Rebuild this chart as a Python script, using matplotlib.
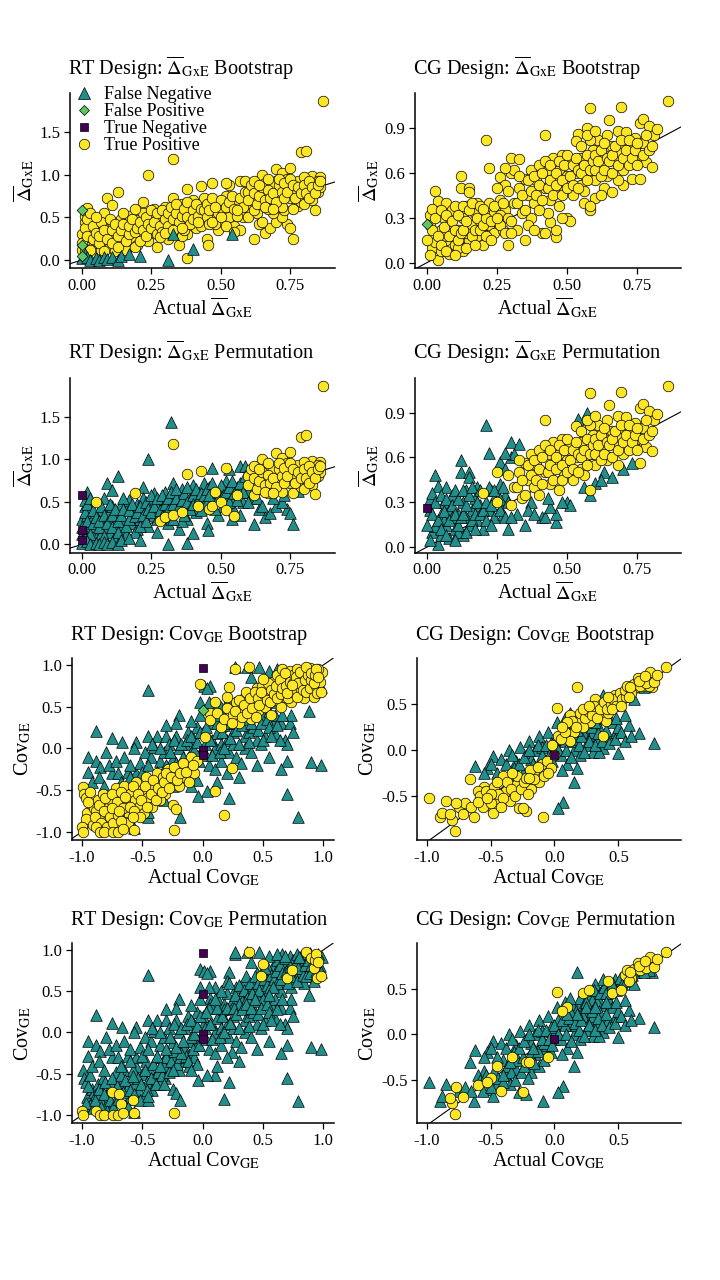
import numpy as np
import matplotlib
matplotlib.use("Agg")
import matplotlib.pyplot as plt
from matplotlib.lines import Line2D
from matplotlib.ticker import FormatStrFormatter

plt.rcParams['font.family'] = ['Liberation Serif', 'DejaVu Serif']
plt.rcParams['mathtext.fontset'] = 'stix'
plt.rcParams['axes.unicode_minus'] = False

# ---------------- data ----------------
# each list: points (actual, estimate); name = <set>_<bootstrap class>_<permutation class>

# RT design, Delta GxE
RTD_TP_FN = [(0.00, 0.30), (0.00, 0.12), (0.01, 0.22), (0.01, 0.45), (0.01, 0.52), (0.02, 0.61),
             (0.02, 0.35), (0.02, 0.18), (0.01, 0.10), (0.03, 0.27), (0.03, 0.42), (0.04, 0.15),
             (0.04, 0.33), (0.05, 0.22), (0.05, 0.08), (0.06, 0.38), (0.07, 0.28), (0.07, 0.12),
             (0.08, 0.55), (0.08, 0.20), (0.09, 0.72), (0.09, 0.40), (0.10, 0.30), (0.10, 0.15),
             (0.11, 0.64), (0.11, 0.45), (0.12, 0.25), (0.12, 0.10), (0.13, 0.80), (0.13, 0.38),
             (0.14, 0.48), (0.14, 0.18), (0.15, 0.30), (0.16, 0.42), (0.16, 0.12), (0.17, 0.52),
             (0.18, 0.25), (0.18, 0.36), (0.20, 0.47), (0.20, 0.18), (0.21, 0.30), (0.22, 0.68),
             (0.22, 0.55), (0.23, 0.40), (0.24, 1.00), (0.24, 0.22), (0.25, 0.48), (0.26, 0.35),
             (0.26, 0.60), (0.27, 0.15), (0.28, 0.52), (0.29, 0.42), (0.30, 0.62), (0.31, 0.25),
             (0.32, 0.50), (0.33, 0.72), (0.34, 0.40), (0.35, 0.58), (0.35, 0.18), (0.36, 0.65),
             (0.37, 0.45), (0.38, 0.30), (0.39, 0.55), (0.40, 0.70), (0.38, 0.02), (0.41, 0.38),
             (0.42, 0.60), (0.44, 0.48), (0.45, 0.25), (0.455, 0.17), (0.46, 0.68), (0.47, 0.90),
             (0.48, 0.52), (0.49, 0.35), (0.50, 0.62), (0.51, 0.45), (0.52, 0.75), (0.53, 0.88),
             (0.54, 0.55), (0.55, 0.40), (0.56, 0.68), (0.57, 0.92), (0.58, 0.50), (0.59, 0.92),
             (0.60, 0.62), (0.57, 0.35), (0.62, 0.24), (0.66, 0.32), (0.68, 0.37), (0.70, 0.45),
             (0.74, 0.42), (0.75, 0.37), (0.76, 0.24), (0.78, 0.63), (0.72, 0.50), (0.64, 0.42),
             (0.61, 0.55), (0.44, 0.72), (0.36, 0.28), (0.27, 0.45), (0.15, 0.55),
             (0.00, 0.20), (0.01, 0.38), (0.02, 0.28), (0.02, 0.48), (0.03, 0.12), (0.03, 0.55),
             (0.04, 0.25), (0.04, 0.40), (0.05, 0.32), (0.06, 0.20), (0.06, 0.28), (0.07, 0.45),
             (0.08, 0.35), (0.08, 0.10), (0.09, 0.25), (0.10, 0.48), (0.11, 0.20), (0.11, 0.35),
             (0.12, 0.42), (0.13, 0.28), (0.13, 0.15), (0.14, 0.35), (0.15, 0.42), (0.16, 0.22),
             (0.17, 0.30), (0.17, 0.40), (0.18, 0.48), (0.19, 0.33), (0.19, 0.15), (0.20, 0.38),
             (0.21, 0.45), (0.21, 0.22), (0.22, 0.35), (0.23, 0.50), (0.23, 0.28), (0.24, 0.42),
             (0.25, 0.38), (0.25, 0.58), (0.26, 0.45), (0.27, 0.55), (0.27, 0.30), (0.28, 0.40),
             (0.29, 0.58), (0.29, 0.33), (0.30, 0.48), (0.31, 0.55), (0.31, 0.40), (0.32, 0.62),
             (0.32, 0.30), (0.33, 0.48), (0.34, 0.55), (0.34, 0.65), (0.35, 0.45), (0.36, 0.52),
             (0.37, 0.60), (0.37, 0.35), (0.38, 0.50), (0.38, 0.68), (0.39, 0.42), (0.40, 0.58),
             (0.40, 0.48), (0.41, 0.65), (0.42, 0.52), (0.43, 0.40), (0.43, 0.60), (0.44, 0.58),
             (0.45, 0.65), (0.45, 0.50), (0.46, 0.58), (0.47, 0.72), (0.48, 0.42), (0.49, 0.62),
             (0.49, 0.55), (0.50, 0.70), (0.51, 0.58), (0.52, 0.62), (0.53, 0.50), (0.53, 0.68),
             (0.54, 0.75), (0.55, 0.60), (0.56, 0.52), (0.57, 0.72), (0.58, 0.62), (0.59, 0.80),
             (0.60, 0.50), (0.63, 0.55), (0.65, 0.45), (0.69, 0.55), (0.73, 0.58)]
RTD_TP_TP = [(0.33, 1.18), (0.87, 1.86), (0.79, 1.26), (0.81, 1.28), (0.38, 0.83), (0.19, 0.60),
             (0.05, 0.50), (0.28, 0.27), (0.30, 0.32), (0.33, 0.35), (0.36, 0.38), (0.42, 0.45),
             (0.46, 0.42), (0.47, 0.45), (0.50, 0.50), (0.52, 0.40), (0.55, 0.33), (0.43, 0.86),
             (0.52, 0.90), (0.48, 0.62), (0.56, 0.58), (0.60, 0.80), (0.61, 0.70), (0.62, 0.58),
             (0.63, 0.85), (0.64, 0.65), (0.65, 1.00), (0.65, 0.75), (0.66, 0.90), (0.67, 0.60),
             (0.68, 0.82), (0.69, 0.70), (0.70, 1.07), (0.70, 0.92), (0.71, 0.78), (0.72, 0.62),
             (0.72, 1.02), (0.73, 0.85), (0.74, 0.95), (0.75, 1.08), (0.75, 0.72), (0.76, 0.60),
             (0.77, 0.88), (0.78, 0.80), (0.78, 0.93), (0.79, 0.68), (0.80, 0.75), (0.81, 0.90),
             (0.82, 0.82), (0.83, 0.98), (0.83, 0.70), (0.84, 0.59), (0.84, 0.88), (0.85, 0.80),
             (0.86, 0.97), (0.86, 0.85), (0.80, 0.97), (0.76, 0.79), (0.69, 0.88), (0.85, 0.93),
             (0.60, 0.70), (0.61, 0.88), (0.62, 0.78), (0.63, 0.65), (0.64, 0.75), (0.65, 0.85),
             (0.66, 0.70), (0.67, 0.82), (0.67, 0.95), (0.68, 0.72), (0.69, 0.78), (0.70, 0.68),
             (0.71, 0.88), (0.71, 0.95), (0.72, 0.80), (0.73, 0.72), (0.73, 0.90), (0.74, 0.80),
             (0.75, 0.95), (0.76, 0.88), (0.77, 0.72), (0.78, 0.85), (0.79, 0.78), (0.80, 0.88),
             (0.80, 0.65), (0.81, 0.78), (0.82, 0.92), (0.82, 0.72), (0.83, 0.85), (0.84, 0.78),
             (0.85, 0.88), (0.86, 0.92), (0.62, 0.92), (0.64, 0.88), (0.66, 0.62), (0.69, 0.60)]
RTD_FN_FN = [(0.00, 0.02), (0.01, 0.07), (0.02, 0.04), (0.03, 0.00), (0.05, 0.02), (0.06, 0.00),
             (0.08, 0.03), (0.09, 0.01), (0.11, 0.03), (0.13, 0.00), (0.14, 0.05), (0.17, 0.07),
             (0.21, 0.05), (0.31, 0.00), (0.33, 0.30), (0.40, 0.13), (0.54, 0.30)]
RTD_FP_TN = [(0.00, 0.58), (0.00, 0.17), (0.00, 0.05)]
RTD_NA_FN = [(0.32, 1.44)]

# CG design, Delta GxE
CGD_TP_FN = [(0.01, 0.32), (0.02, 0.10), (0.03, 0.48), (0.03, 0.14), (0.04, 0.41), (0.04, 0.02),
             (0.05, 0.22), (0.05, 0.08), (0.06, 0.30), (0.07, 0.40), (0.07, 0.15), (0.08, 0.25),
             (0.08, 0.06), (0.09, 0.35), (0.10, 0.12), (0.01, 0.25), (0.02, 0.36), (0.06, 0.18),
             (0.10, 0.38), (0.11, 0.22), (0.12, 0.58), (0.12, 0.50), (0.13, 0.08), (0.13, 0.30),
             (0.14, 0.38), (0.15, 0.50), (0.15, 0.47), (0.15, 0.15), (0.16, 0.25), (0.17, 0.33),
             (0.18, 0.18), (0.19, 0.28), (0.20, 0.12), (0.14, 0.20), (0.21, 0.82), (0.22, 0.63),
             (0.22, 0.25), (0.23, 0.38), (0.24, 0.20), (0.26, 0.57), (0.26, 0.42), (0.27, 0.22),
             (0.28, 0.35), (0.29, 0.12), (0.30, 0.60), (0.30, 0.70), (0.32, 0.22), (0.33, 0.69),
             (0.35, 0.15), (0.37, 0.30), (0.41, 0.20), (0.46, 0.17), (0.46, 0.22), (0.50, 0.30),
             (0.51, 0.28), (0.54, 0.86), (0.56, 0.40), (0.57, 0.90), (0.58, 0.35), (0.63, 0.50),
             (0.66, 0.47), (0.73, 0.56), (0.60, 0.43), (0.70, 0.52), (0.48, 0.30), (0.62, 0.45),
             (0.09, 0.20), (0.18, 0.40), (0.11, 0.10), (0.24, 0.33),
             (0.00, 0.15), (0.01, 0.05), (0.02, 0.22), (0.03, 0.30), (0.04, 0.18), (0.05, 0.35),
             (0.05, 0.12), (0.06, 0.24), (0.07, 0.08), (0.07, 0.32), (0.08, 0.18), (0.09, 0.28),
             (0.10, 0.22), (0.10, 0.05), (0.11, 0.32), (0.11, 0.15), (0.12, 0.20), (0.13, 0.38),
             (0.13, 0.22), (0.14, 0.28), (0.14, 0.10), (0.15, 0.35), (0.16, 0.18), (0.16, 0.40),
             (0.17, 0.22), (0.17, 0.12), (0.18, 0.30), (0.19, 0.22), (0.19, 0.38), (0.20, 0.25),
             (0.21, 0.30), (0.21, 0.18), (0.22, 0.40), (0.23, 0.28), (0.23, 0.15), (0.24, 0.38),
             (0.26, 0.25), (0.26, 0.32), (0.27, 0.40), (0.28, 0.20), (0.28, 0.52), (0.29, 0.30),
             (0.30, 0.20), (0.31, 0.62), (0.28, 0.63), (0.36, 0.25), (0.38, 0.22), (0.42, 0.20),
             (0.44, 0.27), (0.43, 0.33)]
CGD_TP_TP = [(0.20, 0.36), (0.25, 0.50), (0.25, 0.30), (0.29, 0.48), (0.30, 0.28), (0.31, 0.40),
             (0.33, 0.50), (0.34, 0.33), (0.35, 0.56), (0.36, 0.45), (0.37, 0.62), (0.38, 0.40),
             (0.39, 0.55), (0.40, 0.35), (0.40, 0.65), (0.42, 0.85), (0.42, 0.50), (0.43, 0.62),
             (0.44, 0.42), (0.45, 0.70), (0.45, 0.55), (0.47, 0.38), (0.47, 0.62), (0.48, 0.72),
             (0.49, 0.48), (0.50, 0.58), (0.51, 0.68), (0.52, 0.45), (0.53, 0.81), (0.53, 0.60),
             (0.55, 0.52), (0.55, 0.70), (0.57, 0.63), (0.58, 1.03), (0.58, 0.38), (0.59, 0.75),
             (0.60, 0.55), (0.61, 0.82), (0.62, 0.65), (0.63, 0.72), (0.64, 0.85), (0.65, 0.95),
             (0.65, 0.60), (0.66, 0.78), (0.67, 0.68), (0.68, 0.88), (0.68, 0.55), (0.69, 1.04),
             (0.69, 0.73), (0.70, 0.62), (0.70, 0.80), (0.71, 0.87), (0.72, 0.70), (0.73, 0.78),
             (0.74, 0.83), (0.75, 0.72), (0.76, 0.93), (0.76, 0.56), (0.77, 0.96), (0.77, 0.80),
             (0.78, 0.67), (0.79, 0.91), (0.80, 0.64), (0.81, 0.85), (0.82, 0.89), (0.86, 1.08),
             (0.74, 0.66), (0.56, 0.48), (0.64, 0.58), (0.72, 0.76),
             (0.32, 0.40), (0.33, 0.58), (0.34, 0.45), (0.35, 0.35), (0.36, 0.55), (0.37, 0.48),
             (0.38, 0.58), (0.39, 0.45), (0.40, 0.52), (0.41, 0.60), (0.41, 0.42), (0.42, 0.68),
             (0.43, 0.50), (0.44, 0.55), (0.44, 0.65), (0.45, 0.45), (0.46, 0.60), (0.46, 0.52),
             (0.47, 0.68), (0.48, 0.55), (0.48, 0.45), (0.49, 0.65), (0.50, 0.50), (0.50, 0.72),
             (0.51, 0.58), (0.52, 0.65), (0.52, 0.52), (0.53, 0.70), (0.54, 0.62), (0.54, 0.50),
             (0.55, 0.60), (0.55, 0.78), (0.56, 0.65), (0.57, 0.55), (0.57, 0.72), (0.58, 0.62),
             (0.58, 0.82), (0.59, 0.68), (0.60, 0.72), (0.60, 0.62), (0.61, 0.68), (0.62, 0.75),
             (0.62, 0.58), (0.63, 0.62), (0.63, 0.80), (0.64, 0.70), (0.65, 0.68), (0.66, 0.72),
             (0.66, 0.60), (0.67, 0.78), (0.68, 0.65), (0.69, 0.82), (0.70, 0.70), (0.71, 0.75),
             (0.72, 0.65), (0.72, 0.82), (0.73, 0.70), (0.74, 0.75), (0.75, 0.80), (0.75, 0.65),
             (0.77, 0.72), (0.78, 0.85), (0.79, 0.75), (0.80, 0.78), (0.57, 0.85), (0.60, 0.88)]
CGD_FP_TN = [(0.00, 0.26)]

# RT design, Cov GE
RTC_TP_FN = [(-0.99, -0.46), (-0.98, -0.55), (-0.97, -0.60), (-0.96, -0.78), (-0.93, -0.88),
             (-0.92, -0.68), (-0.90, -0.72), (-0.87, -0.62), (-0.85, -0.80), (-0.83, -0.55),
             (-0.80, -0.88), (-0.78, -0.70), (-0.76, -0.62), (-0.73, -0.83), (-0.72, -0.48),
             (-0.67, -0.60), (-0.65, -0.45), (-0.63, -0.68), (-0.61, -0.80), (-0.60, -0.55),
             (-0.56, -0.62), (-0.55, -0.40), (-0.53, -0.70), (-0.50, -0.50), (-0.49, -0.78),
             (-0.47, -0.35), (-0.46, -0.60), (-0.44, -0.45), (-0.42, -0.70), (-0.40, -0.55),
             (-0.38, -0.30), (-0.36, -0.45), (-0.33, -0.35), (-0.31, -0.55), (-0.29, -0.25),
             (-0.27, -0.40), (-0.25, -0.68), (-0.23, -0.30), (-0.22, -0.73), (-0.20, -0.45),
             (-0.18, -0.20), (-0.15, -0.35), (-0.12, -0.25), (-0.10, -0.10), (-0.07, -0.30),
             (-0.05, -0.15), (0.10, -0.51), (0.18, -0.80), (0.24, -0.24), (0.02, 0.14),
             (-0.02, 0.77), (0.22, 0.73), (0.06, 0.42), (0.06, 0.34), (0.10, 0.55), (0.12, 0.42),
             (0.15, 0.25), (0.18, 0.35), (0.20, 0.48), (0.25, 0.40), (0.28, 0.55), (0.30, 0.30),
             (0.32, 0.45), (0.35, 0.62), (0.38, 0.50), (0.40, 0.35), (0.42, 0.58), (0.45, 0.72),
             (0.46, 0.45), (0.52, 0.50), (0.55, 0.68), (0.57, 0.40), (0.58, 0.80), (0.60, 0.58),
             (0.62, 0.88), (0.63, 0.70), (0.65, 0.50), (0.66, 0.95), (0.67, 0.78), (0.68, 0.62),
             (0.70, 0.85), (0.72, 0.93), (0.73, 0.55), (0.75, 0.88), (0.76, 0.65), (0.78, 0.95),
             (0.80, 0.72), (0.82, 0.85), (0.84, 0.60), (0.88, 0.78), (0.91, 0.68), (0.99, 0.92),
             (0.27, 0.95), (-0.88, -0.75), (-0.64, -0.88), (-0.35, -0.62), (0.50, 0.60),
             (-0.97, -0.85), (-0.95, -0.65), (-0.93, -0.52), (-0.91, -0.92), (-0.89, -0.82),
             (-0.86, -0.68), (-0.84, -0.90), (-0.82, -0.75), (-0.81, -0.60), (-0.79, -0.95),
             (-0.77, -0.82), (-0.75, -0.55), (-0.74, -0.90), (-0.71, -0.65), (-0.70, -0.80),
             (-0.68, -0.52), (-0.66, -0.72), (-0.64, -0.58), (-0.62, -0.90), (-0.60, -0.70),
             (-0.58, -0.45), (-0.57, -0.75), (-0.54, -0.55), (-0.52, -0.82), (-0.51, -0.62),
             (-0.48, -0.45), (-0.46, -0.70), (-0.43, -0.55), (-0.41, -0.38), (-0.39, -0.62),
             (-0.37, -0.48), (-0.34, -0.52), (-0.32, -0.40), (-0.30, -0.30), (-0.28, -0.48),
             (-0.26, -0.35), (-0.24, -0.22), (-0.21, -0.38), (-0.19, -0.30), (-0.16, -0.18),
             (-0.14, -0.28), (-0.11, -0.40), (-0.08, -0.20),
             (0.20, 0.62), (0.24, 0.30), (0.27, 0.45), (0.30, 0.58), (0.33, 0.38), (0.34, 0.52),
             (0.36, 0.68), (0.37, 0.42), (0.39, 0.60), (0.41, 0.48), (0.43, 0.68), (0.44, 0.38),
             (0.46, 0.60), (0.47, 0.52), (0.49, 0.75), (0.51, 0.65), (0.53, 0.58), (0.54, 0.78),
             (0.56, 0.55), (0.57, 0.70), (0.59, 0.65), (0.61, 0.75), (0.62, 0.60), (0.64, 0.82),
             (0.65, 0.65), (0.66, 0.72), (0.68, 0.90), (0.69, 0.75), (0.71, 0.60), (0.72, 0.80),
             (0.73, 0.68), (0.75, 0.78), (0.77, 0.85), (0.78, 0.62), (0.79, 0.78), (0.81, 0.92),
             (0.83, 0.70), (0.85, 0.82), (0.86, 0.68), (0.87, 0.88), (0.89, 0.72), (0.90, 0.82),
             (0.92, 0.62), (0.94, 0.75), (0.97, 0.80), (0.96, 0.95), (0.89, 0.96)]
RTC_TP_TP = [(-1.00, -0.95), (-0.99, -1.00), (-0.88, -0.95), (-0.85, -1.00), (-0.82, -1.00),
             (-0.75, -0.72), (-0.74, -1.00), (-0.70, -1.00), (-0.69, -0.75), (-0.68, -0.87),
             (-0.66, -0.97), (-0.58, -0.82), (-0.57, -0.98), (-0.24, -0.98), (0.38, 0.97),
             (0.50, 0.83), (0.48, 0.68), (0.70, 0.66), (0.74, 0.76), (0.86, 0.97), (0.90, 0.90),
             (0.92, 0.78), (0.93, 0.88), (0.94, 0.95), (0.95, 0.66), (0.98, 0.68), (0.96, 0.85)]
RTC_FN_FN = [(-0.45, 0.70), (-0.88, 0.21), (-0.75, 0.12), (-0.67, 0.07), (-0.55, 0.07),
             (-0.45, 0.15), (-0.38, 0.15), (-0.30, 0.15), (-0.22, 0.15), (-0.95, -0.10),
             (-0.88, -0.15), (-0.85, -0.22), (-0.80, -0.05), (-0.95, -0.28), (-0.75, -0.30),
             (-0.70, -0.30), (-0.62, -0.28), (-0.55, -0.30), (-0.52, -0.18), (-0.48, -0.05),
             (-0.43, -0.10), (-0.40, 0.02), (-0.35, -0.15), (-0.32, -0.05), (-0.28, 0.05),
             (-0.25, -0.12), (-0.20, 0.00), (-0.18, -0.25), (-0.15, 0.05), (-0.12, 0.20),
             (-0.10, -0.05), (-0.08, 0.12), (-0.05, 0.25), (-0.03, -0.15), (-0.02, 0.40),
             (-0.20, 0.40), (-0.22, 0.30), (-0.10, 0.33), (0.00, 0.20), (0.02, 0.05),
             (0.03, -0.08), (0.05, -0.20), (0.05, 0.30), (0.08, 0.10), (0.10, 0.00),
             (0.10, -0.25), (0.12, 0.18), (0.15, 0.05), (0.15, -0.15), (0.18, 0.28),
             (0.20, -0.30), (0.20, 0.10), (0.22, -0.05), (0.22, -0.60), (0.25, 0.20),
             (0.25, 0.05), (0.28, -0.10), (0.30, 0.35), (0.32, -0.18), (0.35, 0.15),
             (0.35, 0.00), (0.38, 0.20), (0.40, -0.05), (0.42, 0.25), (0.45, 0.10),
             (0.48, 0.05), (0.50, 0.40), (0.52, 0.15), (0.55, -0.10), (0.58, 0.30),
             (0.60, 0.18), (0.65, 0.30), (0.68, 0.10), (0.70, 0.05), (0.70, -0.15),
             (0.72, 0.30), (0.73, 0.40), (0.75, 0.20), (0.65, -0.25), (0.70, -0.55),
             (0.79, -0.83), (0.90, -0.17), (0.98, -0.20), (0.88, 0.45), (0.98, 0.73),
             (0.27, 0.98), (0.37, 0.97), (0.47, 0.97), (0.01, 0.75), (0.06, 0.75),
             (0.04, 0.72), (0.40, 0.85), (0.58, 0.55), (0.60, 0.40), (0.22, 0.60),
             (0.15, 0.50), (-0.58, -0.53), (-0.35, -0.40), (-0.60, -0.35), (-0.45, -0.82),
             (-0.32, -0.62), (-0.12, -0.35), (-0.05, -0.38), (-0.19, -0.82), (-0.57, -0.96),
             (0.04, -0.51), (-0.04, -0.57), (-0.45, -0.77), (0.55, 0.93), (0.80, 0.92),
             (-0.92, -0.40), (-0.86, -0.35), (-0.82, -0.45), (-0.78, -0.20), (-0.72, -0.15),
             (-0.68, -0.40), (-0.65, -0.10), (-0.60, -0.20), (-0.57, 0.00), (-0.50, -0.28),
             (-0.45, -0.20), (-0.42, 0.05), (-0.38, -0.28), (-0.35, 0.00), (-0.30, -0.20),
             (-0.27, -0.05), (-0.24, 0.10), (-0.22, -0.18), (-0.18, 0.05), (-0.16, -0.10),
             (-0.13, 0.10), (-0.10, 0.15), (-0.07, -0.02), (-0.05, 0.08), (-0.02, 0.20),
             (0.03, 0.25), (0.06, 0.10), (0.08, -0.08), (0.12, 0.30), (0.14, -0.05),
             (0.16, 0.20), (0.18, 0.00), (0.20, 0.30), (0.23, 0.12), (0.26, 0.30),
             (0.28, 0.22), (0.30, 0.05), (0.33, 0.28), (0.36, 0.35), (0.38, 0.08),
             (0.40, 0.30), (0.43, 0.40), (0.46, 0.22), (0.48, 0.30), (0.50, 0.10),
             (0.53, 0.35), (0.55, 0.25), (0.57, 0.15), (0.62, 0.28), (0.64, 0.10),
             (0.66, 0.40), (0.45, -0.20), (0.30, -0.35), (0.12, -0.40), (-0.10, -0.45),
             (-0.25, -0.45), (-0.02, 0.55), (0.05, 0.55), (0.10, 0.40), (0.55, 0.45),
             (-0.30, 0.28), (0.52, 0.78), (0.62, 0.95), (0.68, 0.93)]
RTC_FP_TN = [(0.00, 0.46)]
RTC_TN_TN = [(0.00, 0.96), (0.00, -0.02), (0.00, -0.08)]

# CG design, Cov GE
CGC_TP_FN = [(-0.98, -0.52), (-0.90, -0.73), (-0.85, -0.55), (-0.66, -0.31), (-0.63, -0.73),
             (-0.55, -0.40), (-0.52, -0.60), (-0.48, -0.68), (-0.40, -0.28), (-0.38, -0.45),
             (-0.35, -0.55), (-0.30, -0.38), (-0.28, -0.63), (-0.22, -0.66), (-0.18, -0.42),
             (-0.15, -0.22), (-0.12, -0.35), (-0.10, -0.15), (-0.09, -0.73), (0.00, -0.05),
             (0.03, 0.15), (0.12, 0.38), (0.15, 0.20), (0.18, 0.68), (0.20, 0.33), (0.25, 0.28),
             (0.30, 0.40), (0.32, 0.55), (0.35, 0.38), (0.37, 0.50), (0.40, 0.32), (0.47, 0.60),
             (0.50, 0.55), (0.76, 0.68), (0.38, 0.15), (0.28, 0.30), (0.12, 0.10), (0.05, 0.12),
             (-0.02, 0.05), (-0.45, -0.55), (-0.60, -0.45), (0.42, 0.40), (0.22, 0.25),
             (-0.88, -0.68), (-0.75, -0.62), (-0.70, -0.58), (-0.65, -0.62), (-0.58, -0.50),
             (-0.56, -0.62), (-0.54, -0.45), (-0.50, -0.58), (-0.47, -0.40), (-0.44, -0.48),
             (-0.40, -0.52), (-0.37, -0.35), (-0.34, -0.42), (-0.31, -0.50), (-0.29, -0.28),
             (-0.26, -0.42), (-0.24, -0.35), (-0.21, -0.48), (-0.19, -0.22), (-0.16, -0.32),
             (-0.13, -0.18), (-0.08, -0.28), (-0.06, -0.12), (-0.03, -0.20), (0.08, 0.20),
             (0.14, 0.32), (0.17, 0.25), (0.20, 0.40), (0.24, 0.35), (0.26, 0.42), (0.29, 0.38),
             (0.31, 0.48), (0.33, 0.35), (0.36, 0.45), (0.39, 0.52), (0.41, 0.45), (0.44, 0.50),
             (0.46, 0.55), (0.48, 0.48), (0.51, 0.62), (0.53, 0.55), (0.56, 0.58), (0.61, 0.65),
             (0.64, 0.68), (0.69, 0.70), (0.74, 0.70), (0.77, 0.78)]
CGC_TP_TP = [(-0.78, -0.88), (-0.80, -0.76), (-0.77, -0.58), (-0.72, -0.69), (-0.60, -0.56),
             (-0.50, -0.48), (-0.42, -0.62), (-0.45, -0.35), (-0.33, -0.25), (-0.25, -0.63),
             (-0.22, -0.30), (-0.20, -0.30), (-0.05, -0.25), (0.02, 0.46), (0.10, 0.30),
             (0.06, 0.25), (0.22, 0.45), (0.27, 0.48), (0.42, 0.58), (0.45, 0.45), (0.52, 0.48),
             (0.55, 0.65), (0.57, 0.70), (0.60, 0.62), (0.62, 0.72), (0.65, 0.78), (0.67, 0.70),
             (0.70, 0.75), (0.72, 0.73), (0.75, 0.85), (0.78, 0.74), (0.87, 0.90), (0.58, 0.58),
             (-0.82, -0.70), (-0.53, -0.52), (0.59, 0.68), (0.66, 0.75), (0.71, 0.80),
             (0.80, 0.82)]
CGC_FN_FN = [(-0.62, -0.17), (-0.53, -0.20), (-0.48, -0.07), (-0.42, -0.10), (-0.36, 0.00),
             (-0.30, -0.12), (-0.27, 0.03), (-0.22, -0.05), (-0.20, 0.10), (-0.15, 0.00),
             (-0.12, 0.15), (-0.10, 0.03), (-0.08, -0.10), (-0.05, 0.20), (-0.03, 0.08),
             (0.02, 0.30), (0.05, -0.05), (0.08, 0.10), (0.10, -0.15), (0.12, 0.25),
             (0.15, 0.00), (0.17, 0.10), (0.20, -0.05), (0.22, 0.20), (0.25, 0.05),
             (0.28, 0.15), (0.30, -0.02), (0.33, 0.12), (0.35, 0.25), (0.38, 0.02),
             (0.42, 0.15), (0.45, 0.30), (0.48, 0.20), (0.50, 0.25), (0.58, 0.27),
             (0.66, 0.18), (0.78, 0.08), (0.50, -0.03), (0.35, -0.02), (0.15, -0.35),
             (0.07, -0.57), (0.03, -0.63), (-0.10, -0.05), (-0.25, -0.25), (0.06, -0.22),
             (0.18, -0.20), (-0.40, -0.45), (-0.35, -0.30), (0.38, 0.60), (0.08, 0.35),
             (0.12, 0.40), (-0.50, -0.15), (-0.18, -0.10), (0.25, 0.35), (0.40, 0.45),
             (0.30, 0.20), (-0.32, -0.20), (0.45, 0.55),
             (-0.55, -0.25), (-0.45, -0.25), (-0.38, -0.15), (-0.33, -0.05), (-0.28, -0.15),
             (-0.24, -0.08), (-0.20, 0.00), (-0.17, -0.15), (-0.13, 0.05), (-0.07, 0.05),
             (-0.04, -0.05), (0.00, 0.10), (0.03, 0.00), (0.06, 0.15), (0.09, 0.00),
             (0.11, 0.18), (0.13, -0.08), (0.16, 0.12), (0.19, 0.05), (0.21, 0.15),
             (0.23, -0.02), (0.27, 0.10), (0.29, 0.25), (0.32, 0.05), (0.34, 0.18),
             (0.37, 0.10), (0.40, 0.22), (0.43, 0.08), (0.47, 0.12), (0.52, 0.20),
             (0.55, 0.10), (0.60, 0.15), (0.25, 0.30), (0.40, 0.35), (0.48, 0.35),
             (0.55, 0.38), (0.62, 0.55), (0.70, 0.68), (0.18, 0.22), (-0.02, -0.12),
             (0.10, 0.22), (0.32, 0.30)]
CGC_TN_TN = [(0.00, -0.05)]

# (bootstrap class, permutation class, points); None = not shown
RTD_GROUPS = [("TP", "FN", RTD_TP_FN), ("TP", "TP", RTD_TP_TP), ("FN", "FN", RTD_FN_FN),
              ("FP", "TN", RTD_FP_TN), (None, "FN", RTD_NA_FN)]
CGD_GROUPS = [("TP", "FN", CGD_TP_FN), ("TP", "TP", CGD_TP_TP), ("FP", "TN", CGD_FP_TN)]
RTC_GROUPS = [("TP", "FN", RTC_TP_FN), ("TP", "TP", RTC_TP_TP), ("FN", "FN", RTC_FN_FN),
              ("FP", "TN", RTC_FP_TN), ("TN", "TN", RTC_TN_TN)]
CGC_GROUPS = [("TP", "FN", CGC_TP_FN), ("TP", "TP", CGC_TP_TP), ("FN", "FN", CGC_FN_FN),
              ("TN", "TN", CGC_TN_TN)]

CLASS_LABELS = {"FN": "False Negative", "FP": "False Positive",
                "TN": "True Negative", "TP": "True Positive"}

# ---------------- styling ----------------
STYLE = {"FN": dict(marker="^", c="#21908C", s=70),
         "FP": dict(marker="D", c="#5DC863", s=30),
         "TN": dict(marker="s", c="#440154", s=36),
         "TP": dict(marker="o", c="#FDE725", s=58)}
TRI_ON_TOP = ["TP", "FN", "FP", "TN"]
DOT_ON_TOP = ["FN", "TP", "FP", "TN"]

DELTA = r"$\overline{\Delta}_{\mathrm{GxE}}$"
COV = r"Cov$_{\mathrm{GE}}$"

W, H = 720, 1280
fig = plt.figure(figsize=(7.2, 12.8), dpi=100)


def add_axes(left, top, right, bottom):
    return fig.add_axes([left / W, 1 - bottom / H, (right - left) / W, (bottom - top) / H])


def draw(ax, groups, which, order):
    for cls in order:
        pts = [p for g in groups if g[which] == cls for p in g[2]]
        if not pts:
            continue
        arr = np.array(pts)
        ax.scatter(arr[:, 0], arr[:, 1], edgecolors="black", linewidths=0.5,
                   zorder=2, clip_on=False, **STYLE[cls])
    ax.axline((0, 0), slope=1, color="black", lw=0.8, zorder=1)


def style_axes(ax, xlim, ylim, xticks, yticks, xfmt, yfmt, xlab, ylab):
    ax.set_xlim(*xlim)
    ax.set_ylim(*ylim)
    ax.set_xticks(xticks)
    ax.set_yticks(yticks)
    ax.xaxis.set_major_formatter(FormatStrFormatter(xfmt))
    ax.yaxis.set_major_formatter(FormatStrFormatter(yfmt))
    for s in ["top", "right"]:
        ax.spines[s].set_visible(False)
    for s in ["left", "bottom"]:
        ax.spines[s].set_linewidth(1.1)
    ax.tick_params(length=4, width=0.9, labelsize=12, pad=3, colors="black")
    ax.set_xlabel(xlab, fontsize=14.5, labelpad=1)
    ax.set_ylabel(ylab, fontsize=14.5, labelpad=2)


def title(x, baseline, text):
    fig.text(x / W, 1 - baseline / H, text, fontsize=14.6, va="baseline", ha="left")


panels = [
    # (left, top, right, bottom, groups, which, order, kind, title, title_baseline)
    (70, 93.3, 335, 268.3, RTD_GROUPS, 0, TRI_ON_TOP, "rtd", "RT Design: " + DELTA + " Bootstrap", 75),
    (415, 93.3, 681, 268.3, CGD_GROUPS, 0, DOT_ON_TOP, "cgd", "CG Design: " + DELTA + " Bootstrap", 75),
    (70, 378.3, 335, 552.7, RTD_GROUPS, 1, DOT_ON_TOP, "rtd", "RT Design: " + DELTA + " Permutation", 359.3),
    (415, 378.3, 681, 552.7, CGD_GROUPS, 1, DOT_ON_TOP, "cgd", "CG Design: " + DELTA + " Permutation", 359.3),
    (72, 658.3, 334.3, 840, RTC_GROUPS, 0, DOT_ON_TOP, "rtc", "RT Design: " + COV + " Bootstrap", 640),
    (417.3, 658.3, 680.7, 840, CGC_GROUPS, 0, DOT_ON_TOP, "cgc", "CG Design: " + COV + " Bootstrap", 640),
    (72, 943.3, 334.3, 1123.3, RTC_GROUPS, 1, DOT_ON_TOP, "rtc", "RT Design: " + COV + " Permutation", 925),
    (417.3, 943.3, 680.7, 1123.3, CGC_GROUPS, 1, DOT_ON_TOP, "cgc", "CG Design: " + COV + " Permutation", 925),
]

for i, (l, t, r, b, groups, which, order, kind, ttl, tb) in enumerate(panels):
    ax = add_axes(l, t, r, b)
    draw(ax, groups, which, order)
    if kind == "rtd":
        style_axes(ax, (-0.043, 0.913), (-0.097, 1.95), [0, 0.25, 0.5, 0.75], [0, 0.5, 1.0, 1.5],
                   "%.2f", "%.1f", "Actual " + DELTA, DELTA)
    elif kind == "cgd":
        style_axes(ax, (-0.042, 0.905), (-0.037, 1.129), [0, 0.25, 0.5, 0.75], [0, 0.3, 0.6, 0.9],
                   "%.2f", "%.1f", "Actual " + DELTA, DELTA)
    elif kind == "rtc":
        style_axes(ax, (-1.083, 1.091), (-1.10, 1.08), [-1, -0.5, 0, 0.5, 1], [-1, -0.5, 0, 0.5, 1],
                   "%.1f", "%.1f", "Actual " + COV, COV)
    else:
        style_axes(ax, (-1.074, 0.988), (-0.978, 0.997), [-1, -0.5, 0, 0.5], [-0.5, 0, 0.5],
                   "%.1f", "%.1f", "Actual " + COV, COV)
    title(l - 2, tb, ttl)
    if i == 0:
        handles = [Line2D([], [], linestyle="none", marker=STYLE[k]["marker"],
                          markerfacecolor=STYLE[k]["c"], markeredgecolor="black",
                          markeredgewidth=0.5, markersize=ms, label=CLASS_LABELS[k])
                   for k, ms in [("FN", 8.5), ("FP", 5.5), ("TN", 5.5), ("TP", 7.5)]]
        ax.legend(handles=handles, loc="upper left", bbox_to_anchor=(0.02, 1.04),
                  frameon=False, fontsize=13, handlelength=1.0, handletextpad=0.6,
                  labelspacing=0.0, borderpad=0, borderaxespad=0)

fig.savefig("out.png", dpi=100)
